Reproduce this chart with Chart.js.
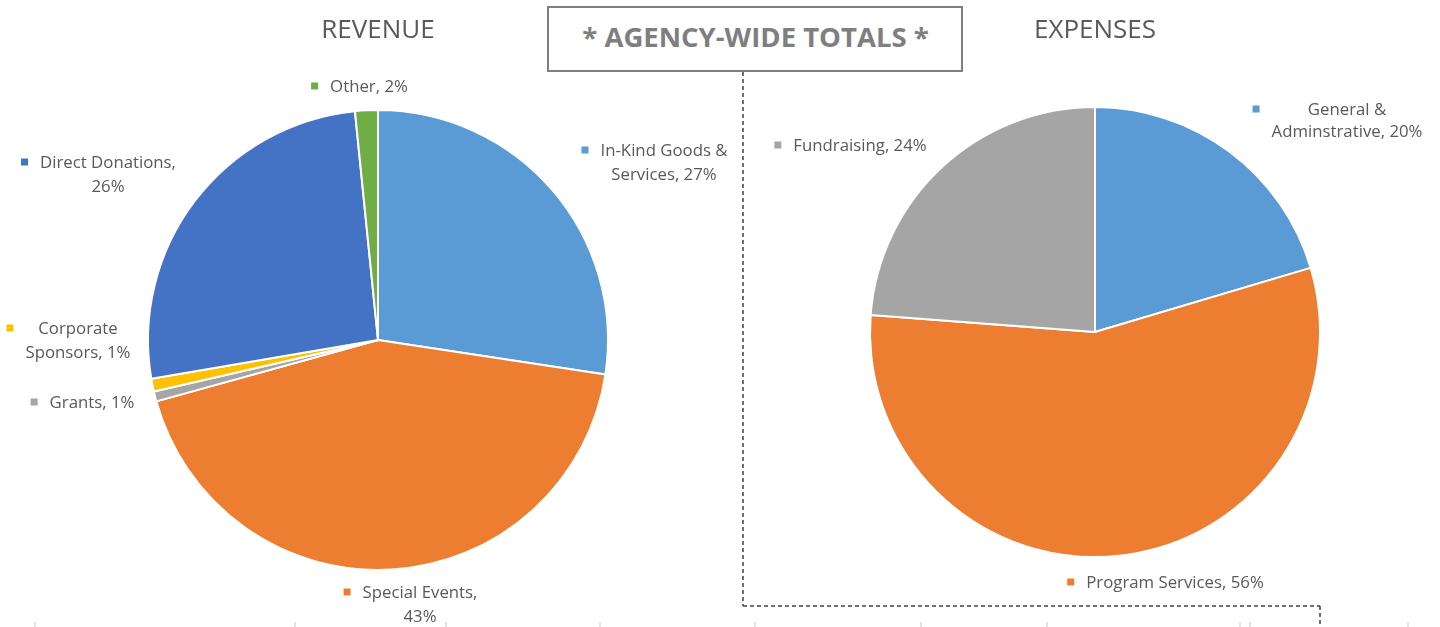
<!DOCTYPE html>
<html><head><meta charset="utf-8">
<script src="https://cdn.jsdelivr.net/npm/chart.js@4.4.1/dist/chart.umd.min.js"></script>
<style>
html,body{margin:0;padding:0;background:#fff;width:1440px;height:627px;overflow:hidden;position:relative;font-family:'Open Sans',sans-serif}
#c1{position:absolute;left:0;top:0}
#c2{position:absolute;left:740px;top:0}
#ov{position:absolute;left:0;top:0;pointer-events:none}
</style></head><body>
<canvas id="c1" width="740" height="627"></canvas>
<canvas id="c2" width="700" height="627"></canvas>
<svg id="ov" width="1440" height="627" xmlns="http://www.w3.org/2000/svg">
  <g stroke="#404040" stroke-width="1.5" stroke-dasharray="4 3" fill="none">
    <line x1="743" y1="72" x2="743" y2="606"/>
    <line x1="743" y1="606" x2="1320" y2="606"/>
    <line x1="1320" y1="606" x2="1320" y2="627"/>
  </g>
  <rect x="548" y="7" width="414" height="64" fill="#fff" stroke="#7f7f7f" stroke-width="2"/>
  <text x="755.5" y="47" text-anchor="middle" font-family="Open Sans" font-weight="bold" font-size="27.5" fill="#7f7f7f">* AGENCY-WIDE TOTALS *</text>
  <g stroke="#c8c8c8" stroke-width="1">
    <line x1="35" y1="622" x2="35" y2="627"/><line x1="295" y1="622" x2="295" y2="627"/>
    <line x1="446" y1="622" x2="446" y2="627"/><line x1="600" y1="622" x2="600" y2="627"/>
    <line x1="755" y1="622" x2="755" y2="627"/><line x1="921" y1="622" x2="921" y2="627"/>
    <line x1="1047" y1="622" x2="1047" y2="627"/><line x1="1240" y1="622" x2="1240" y2="627"/>
    <line x1="1250" y1="622" x2="1250" y2="627"/><line x1="1408" y1="622" x2="1408" y2="627"/>
  </g>
</svg>
<script>
// ---- data ----
const revenueCategories = ['In-Kind Goods & Services', 'Special Events', 'Grants', 'Corporate Sponsors', 'Direct Donations', 'Other'];
const revenueValues = [27.4, 43.3, 0.7, 0.9, 26.1, 1.6];
const revenueColors = ['#5B9BD5', '#ED7D31', '#A5A5A5', '#FFC000', '#4472C4', '#70AD47'];

const expenseCategories = ['General & Adminstrative', 'Program Services', 'Fundraising'];
const expenseValues = [20.4, 55.8, 23.8];
const expenseColors = ['#5B9BD5', '#ED7D31', '#A5A5A5'];

const labelPlugin = {
  id: 'sliceLabels',
  afterDraw(chart, args, opts) {
    const ctx = chart.ctx;
    const ds = chart.data.datasets[0];
    const total = ds.data.reduce((a, b) => a + b, 0);
    const arc = chart.getDatasetMeta(0).data[0];
    const cx = arc.x, cy = arc.y;
    ctx.save();
    ctx.fillStyle = '#595959';
    ctx.textBaseline = 'alphabetic';
    ctx.textAlign = 'center';
    ctx.font = "26px 'Open Sans'";
    ctx.fillText(opts.title, cx, opts.titleBaseline);
    ctx.font = opts.fontSize + "px 'Open Sans'";
    opts.items.forEach((it, i) => {
      const pct = Math.round(ds.data[i] / total * 100);
      const words = (chart.data.labels[i] + ', ' + pct + '%').split(' ');
      const lines = it.brk ? [words.slice(0, it.brk).join(' '), words.slice(it.brk).join(' ')] : [words.join(' ')];
      const x = cx + it.dx, y = cy + it.dy;
      const maxW = Math.max(...lines.map(l => ctx.measureText(l).width));
      lines.forEach((l, k) => {
        ctx.fillStyle = '#595959';
        ctx.fillText(l, x, y + k * opts.lineH + 6);
      });
      ctx.fillStyle = ds.backgroundColor[i];
      ctx.fillRect(x - maxW / 2 - 19, y - 3.5, 7, 7);
    });
    ctx.restore();
  }
};

new Chart(document.getElementById('c1'), {
  type: 'pie',
  data: { labels: revenueCategories, datasets: [{ data: revenueValues, backgroundColor: revenueColors, borderColor: '#fff', borderWidth: 2 }] },
  options: {
    responsive: false, animation: false, radius: 230,
    layout: { padding: { left: 148, right: 132, top: 110, bottom: 57 } },
    plugins: {
      legend: { display: false }, tooltip: { enabled: false },
      sliceLabels: {
        title: 'REVENUE', titleBaseline: 38, fontSize: 16.8, lineH: 23.5,
        items: [
          { dx: 286, dy: -190, brk: 3 },
          { dx: 42, dy: 252, brk: 2 },
          { dx: -286, dy: 62 },
          { dx: -300, dy: -12, brk: 1 },
          { dx: -270, dy: -178, brk: 2 },
          { dx: -9, dy: -254 }
        ]
      }
    }
  },
  plugins: [labelPlugin]
});

new Chart(document.getElementById('c2'), {
  type: 'pie',
  data: { labels: expenseCategories, datasets: [{ data: expenseValues, backgroundColor: expenseColors, borderColor: '#fff', borderWidth: 2 }] },
  options: {
    responsive: false, animation: false, radius: 225,
    layout: { padding: { left: 130, right: 120, top: 107, bottom: 70 } },
    plugins: {
      legend: { display: false }, tooltip: { enabled: false },
      sliceLabels: {
        title: 'EXPENSES', titleBaseline: 38, fontSize: 16.8, lineH: 22,
        items: [
          { dx: 252, dy: -223, brk: 2 },
          { dx: 80, dy: 250 },
          { dx: -235, dy: -187 }
        ]
      }
    }
  },
  plugins: [labelPlugin]
});
</script>
</body></html>
